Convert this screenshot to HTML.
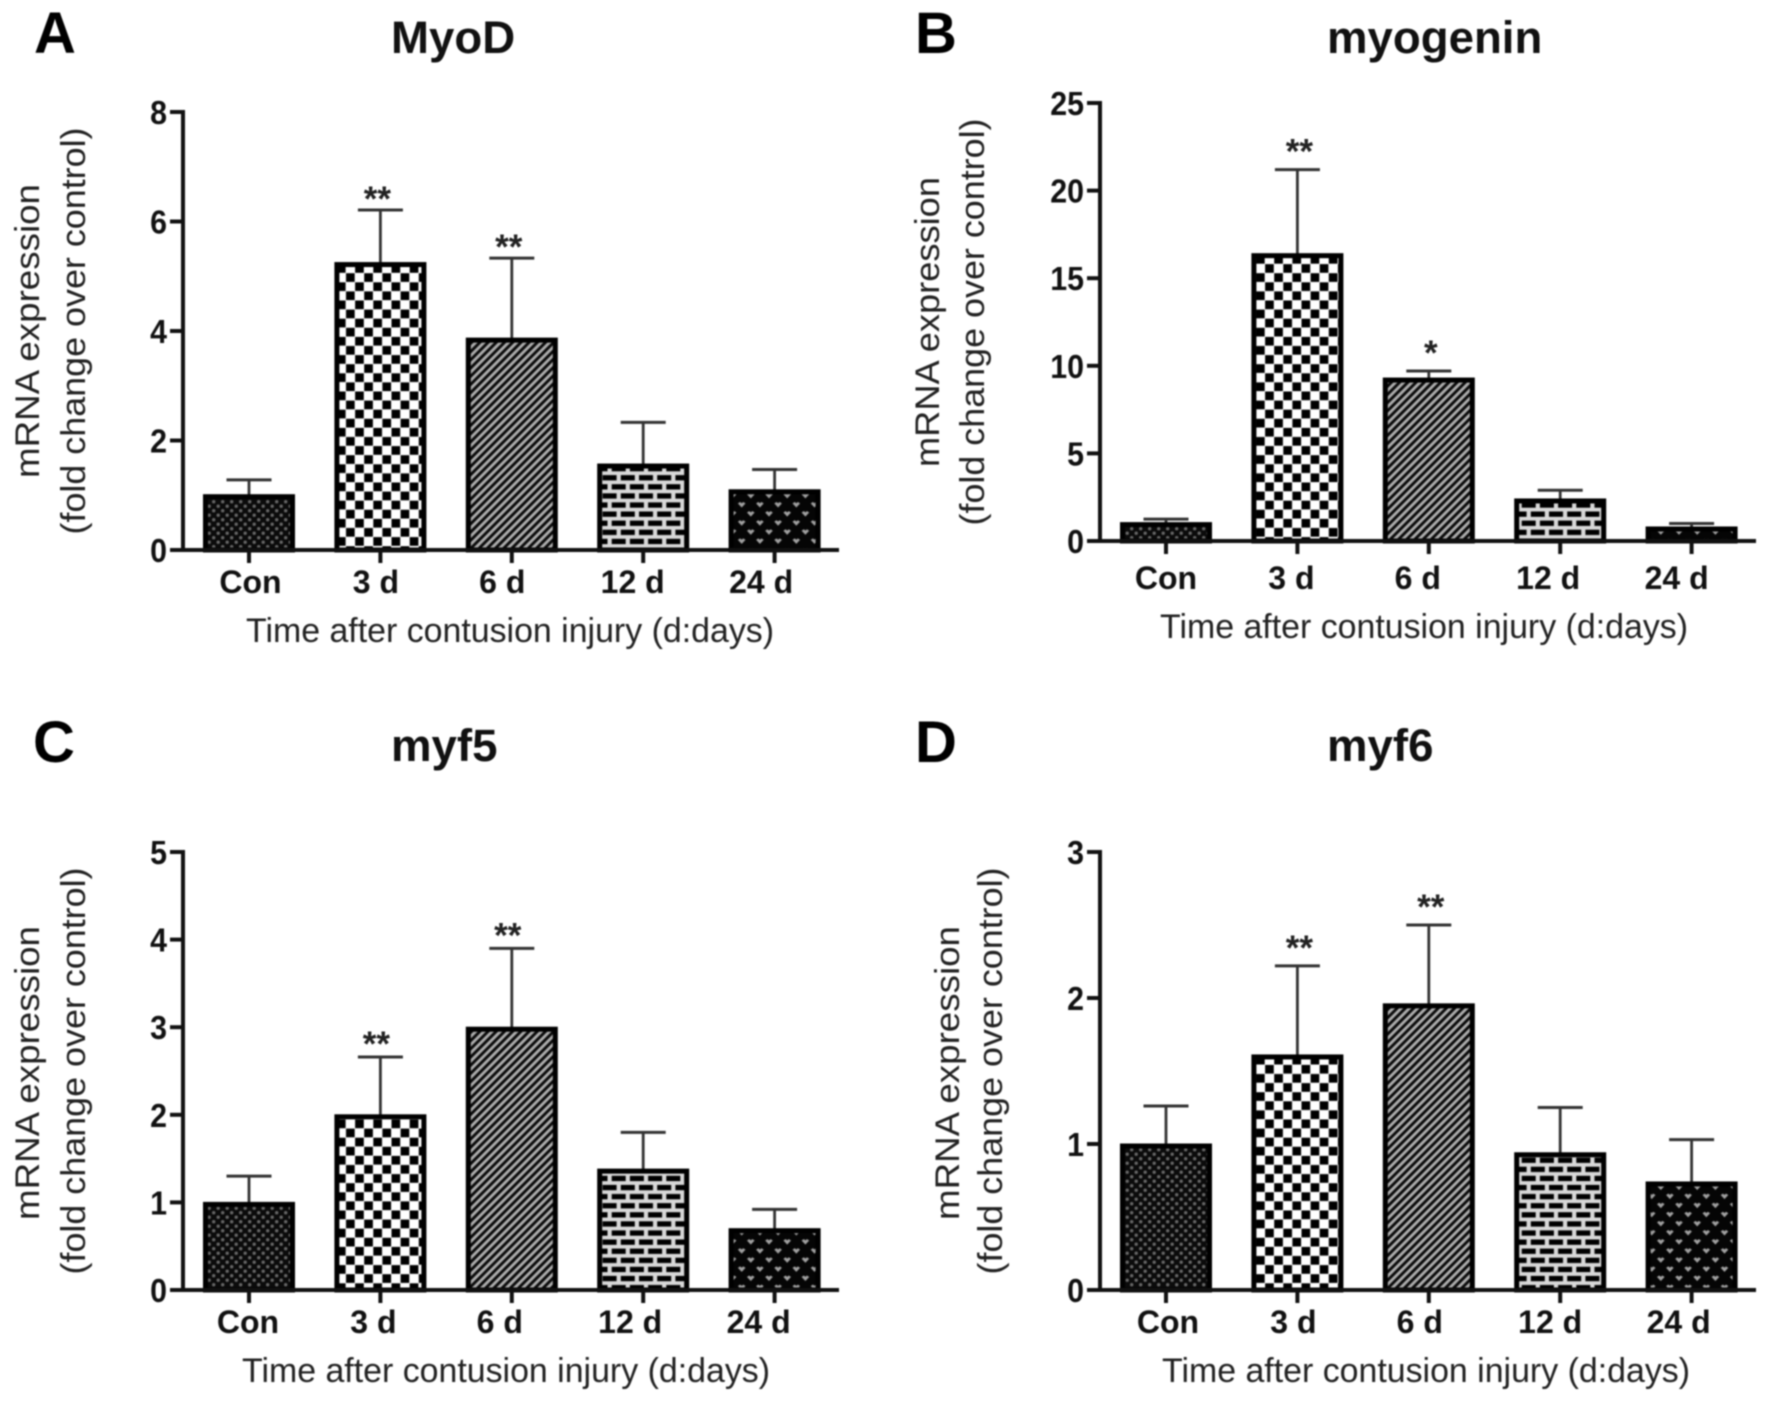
<!DOCTYPE html>
<html lang="en">
<head>
<meta charset="utf-8">
<title>mRNA expression after contusion injury</title>
<style>
html,body{margin:0;padding:0;background:#fff;width:1772px;height:1414px;overflow:hidden}
svg{display:block;filter:blur(0.8px)}
text{font-family:"Liberation Sans",Arial,sans-serif;fill:#111}
.panel-letter{font-size:58px;font-weight:700;fill:#000}
.title{font-size:45.6px;font-weight:700;fill:#111}
.axis-title{font-size:34px;fill:#222}
.tick{font-size:33px;font-weight:700;text-anchor:end}
.cat{font-size:32px;font-weight:700;text-anchor:middle}
.star{font-size:35px;font-weight:700;text-anchor:middle;fill:#222}
</style>
</head>
<body>
<svg id="figure" xmlns="http://www.w3.org/2000/svg" width="1772" height="1414" viewBox="0 0 1772 1414">
<defs>
  <pattern id="p-dots" patternUnits="userSpaceOnUse" width="9" height="9">
    <rect width="9" height="9" fill="#0b0b0b"/>
    <circle cx="2.2" cy="2.2" r="1.7" fill="#666"/>
    <circle cx="6.7" cy="6.7" r="1.7" fill="#666"/>
  </pattern>
  <pattern id="p-checker" patternUnits="userSpaceOnUse" width="18.2" height="18.2">
    <rect width="18.2" height="18.2" fill="#fff"/>
    <rect x="0.2" y="0.2" width="8.7" height="8.7" fill="#000"/>
    <rect x="9.3" y="9.3" width="8.7" height="8.7" fill="#000"/>
  </pattern>
  <pattern id="p-diagonal" patternUnits="userSpaceOnUse" width="5.8" height="5.8" patternTransform="rotate(45)">
    <rect width="5.8" height="5.8" fill="#ababab"/>
    <rect width="2.9" height="5.8" fill="#0c0c0c"/>
  </pattern>
  <pattern id="p-brick" patternUnits="userSpaceOnUse" width="18.2" height="18.2">
    <rect width="18.2" height="18.2" fill="#d8d8d8"/>
    <rect x="2" y="1.9" width="14" height="5.3" fill="#000"/>
    <rect x="11.1" y="11" width="14" height="5.3" fill="#000"/>
    <rect x="-7.1" y="11" width="14" height="5.3" fill="#000"/>
  </pattern>
  <pattern id="p-heart" patternUnits="userSpaceOnUse" width="18.2" height="18.2">
    <rect width="18.2" height="18.2" fill="#050505"/>
    <path d="M0.8 3 L3 1.5 L4.6 2.7 L6.2 1.5 L8.4 3 L4.6 7 Z" fill="#a0a0a0"/>
    <path d="M9.9 12.1 L12.1 10.6 L13.7 11.8 L15.3 10.6 L17.5 12.1 L13.7 16.1 Z" fill="#a0a0a0"/>
  </pattern>
</defs>

<rect width="1772" height="1414" fill="#fff"/>

<text class="panel-letter" x="34" y="53">A</text>
<text class="panel-letter" x="915" y="53">B</text>
<text class="panel-letter" x="33" y="762">C</text>
<text class="panel-letter" x="915" y="762">D</text>

<text class="title" x="391" y="53">MyoD</text>
<text class="title" x="1327" y="53">myogenin</text>
<text class="title" x="391" y="761">myf5</text>
<text class="title" x="1327" y="761">myf6</text>

<text class="axis-title" text-anchor="middle" textLength="294" lengthAdjust="spacingAndGlyphs" transform="translate(39 331) rotate(-90)">mRNA expression</text>
<text class="axis-title" text-anchor="middle" textLength="407" lengthAdjust="spacingAndGlyphs" transform="translate(85 331) rotate(-90)">(fold change over control)</text>
<text class="axis-title" text-anchor="middle" textLength="290" lengthAdjust="spacingAndGlyphs" transform="translate(939 322) rotate(-90)">mRNA expression</text>
<text class="axis-title" text-anchor="middle" textLength="407" lengthAdjust="spacingAndGlyphs" transform="translate(984 322) rotate(-90)">(fold change over control)</text>
<text class="axis-title" text-anchor="middle" textLength="294" lengthAdjust="spacingAndGlyphs" transform="translate(39 1073) rotate(-90)">mRNA expression</text>
<text class="axis-title" text-anchor="middle" textLength="407" lengthAdjust="spacingAndGlyphs" transform="translate(85 1071) rotate(-90)">(fold change over control)</text>
<text class="axis-title" text-anchor="middle" textLength="294" lengthAdjust="spacingAndGlyphs" transform="translate(959 1073) rotate(-90)">mRNA expression</text>
<text class="axis-title" text-anchor="middle" textLength="407" lengthAdjust="spacingAndGlyphs" transform="translate(1002 1071) rotate(-90)">(fold change over control)</text>

<text class="axis-title" text-anchor="middle" textLength="528" lengthAdjust="spacingAndGlyphs" x="510" y="642">Time after contusion injury (d:days)</text>
<text class="axis-title" text-anchor="middle" textLength="528" lengthAdjust="spacingAndGlyphs" x="1424" y="638">Time after contusion injury (d:days)</text>
<text class="axis-title" text-anchor="middle" textLength="528" lengthAdjust="spacingAndGlyphs" x="506" y="1382">Time after contusion injury (d:days)</text>
<text class="axis-title" text-anchor="middle" textLength="528" lengthAdjust="spacingAndGlyphs" x="1426" y="1382">Time after contusion injury (d:days)</text>
</svg>

<script>
// Shared categories
const categories = ['Con', '3 d', '6 d', '12 d', '24 d'];

// Panel A: MyoD
const myodMeans = [1.01, 5.25, 3.87, 1.57, 1.1];
const myodErrorTops = [1.28, 6.21, 5.33, 2.33, 1.47];
const myodStars = ['', '**', '**', '', ''];
const myodTicks = [0, 2, 4, 6, 8];

// Panel B: myogenin
const myogeninMeans = [1.05, 16.4, 9.3, 2.4, 0.8];
const myogeninErrorTops = [1.25, 21.2, 9.7, 2.9, 1.0];
const myogeninStars = ['', '**', '*', '', ''];
const myogeninTicks = [0, 5, 10, 15, 20, 25];

// Panel C: myf5
const myf5Means = [1.0, 2.0, 3.0, 1.38, 0.7];
const myf5ErrorTops = [1.3, 2.66, 3.9, 1.8, 0.92];
const myf5Stars = ['', '**', '**', '', ''];
const myf5Ticks = [0, 1, 2, 3, 4, 5];

// Panel D: myf6
const myf6Means = [1.0, 1.61, 1.96, 0.94, 0.74];
const myf6ErrorTops = [1.26, 2.22, 2.5, 1.25, 1.03];
const myf6Stars = ['', '**', '**', '', ''];
const myf6Ticks = [0, 1, 2, 3];

const NS = 'http://www.w3.org/2000/svg';
const svg = document.getElementById('figure');
const fills = ['p-dots', 'p-checker', 'p-diagonal', 'p-brick', 'p-heart'];
const labelNudge = [1, -5, -10, -11, -14];

function make(tag, attrs, parent) {
  const el = document.createElementNS(NS, tag);
  for (const k in attrs) el.setAttribute(k, attrs[k]);
  parent.appendChild(el);
  return el;
}

function drawPanel(p) {
  const group = make('g', {}, svg);
  
  

  const yMax = p.ticks[p.ticks.length - 1];
  const yScale = v => p.y0 - (v / yMax) * (p.y0 - p.yTop);
  const xScale = i => p.x0 + 66 + i * 131.4;

  // bars and error bars
  p.means.forEach((m, i) => {
    const cx = xScale(i);
    const errLine = make('line', { x1: cx, x2: cx, y1: yScale(m), y2: yScale(p.tops[i]), stroke: '#333', 'stroke-width': 2.8 }, group);
    
    
    const errCap = make('line', { x1: cx - 22.5, x2: cx + 22.5, y1: yScale(p.tops[i]), y2: yScale(p.tops[i]), stroke: '#333', 'stroke-width': 3 }, group);
    
    
    const barTop = Math.min(yScale(m) + 2, p.y0);
    const bar = make('rect', { x: cx - 43.5, y: barTop, width: 87, height: p.y0 - barTop, fill: 'url(#' + fills[i] + ')', stroke: '#000', 'stroke-width': 5 }, group);
    
    
    if (p.stars[i]) {
      const star = make('text', { class: 'star', x: cx + p.starShift, y: yScale(p.tops[i]) - p.starGap + 20 }, group);
      star.textContent = p.stars[i];
      
      
    }
    const tick = make('line', { x1: cx, x2: cx, y1: p.y0, y2: p.y0 + 13, stroke: '#111', 'stroke-width': 4 }, group);
    
    
    const cat = make('text', { class: 'cat', x: cx + labelNudge[i] + p.catShift, y: p.catY }, group);
    cat.textContent = categories[i];
    
    
  });

  // y axis
  const yAxis = make('line', { x1: p.x0, x2: p.x0, y1: p.yTop - 2, y2: p.y0 + 2, stroke: '#111', 'stroke-width': 4 }, group);
  
  
  p.ticks.forEach(t => {
    const ty = yScale(t);
    const tick = make('line', { x1: p.x0 - 13, x2: p.x0, y1: ty, y2: ty, stroke: '#111', 'stroke-width': 4 }, group);
    
    
    const label = make('text', { class: 'tick', transform: 'translate(' + (p.x0 - 16) + ' ' + (ty + 12) + ') scale(0.92 1)' }, group);
    label.textContent = String(t);
    
    
  });

  // x axis
  const xAxis = make('line', { x1: p.x0 - 13, x2: p.x0 + 656, y1: p.y0, y2: p.y0, stroke: '#111', 'stroke-width': 4 }, group);
  
  
}

drawPanel({ name: 'myod', means: myodMeans, tops: myodErrorTops, stars: myodStars, ticks: myodTicks, x0: 183, yTop: 112, y0: 550, catY: 593, catShift: 0.5, starGap: 19, starShift: -3 });
drawPanel({ name: 'myogenin', means: myogeninMeans, tops: myogeninErrorTops, stars: myogeninStars, ticks: myogeninTicks, x0: 1100, yTop: 103, y0: 541, catY: 589, catShift: -1, starGap: 26, starShift: 2 });
drawPanel({ name: 'myf5', means: myf5Means, tops: myf5ErrorTops, stars: myf5Stars, ticks: myf5Ticks, x0: 183, yTop: 852, y0: 1290, catY: 1333, catShift: -2, starGap: 21, starShift: -4 });
drawPanel({ name: 'myf6', means: myf6Means, tops: myf6ErrorTops, stars: myf6Stars, ticks: myf6Ticks, x0: 1100, yTop: 852, y0: 1290, catY: 1333, catShift: 1, starGap: 26, starShift: 2 });
</script>
</body>
</html>
